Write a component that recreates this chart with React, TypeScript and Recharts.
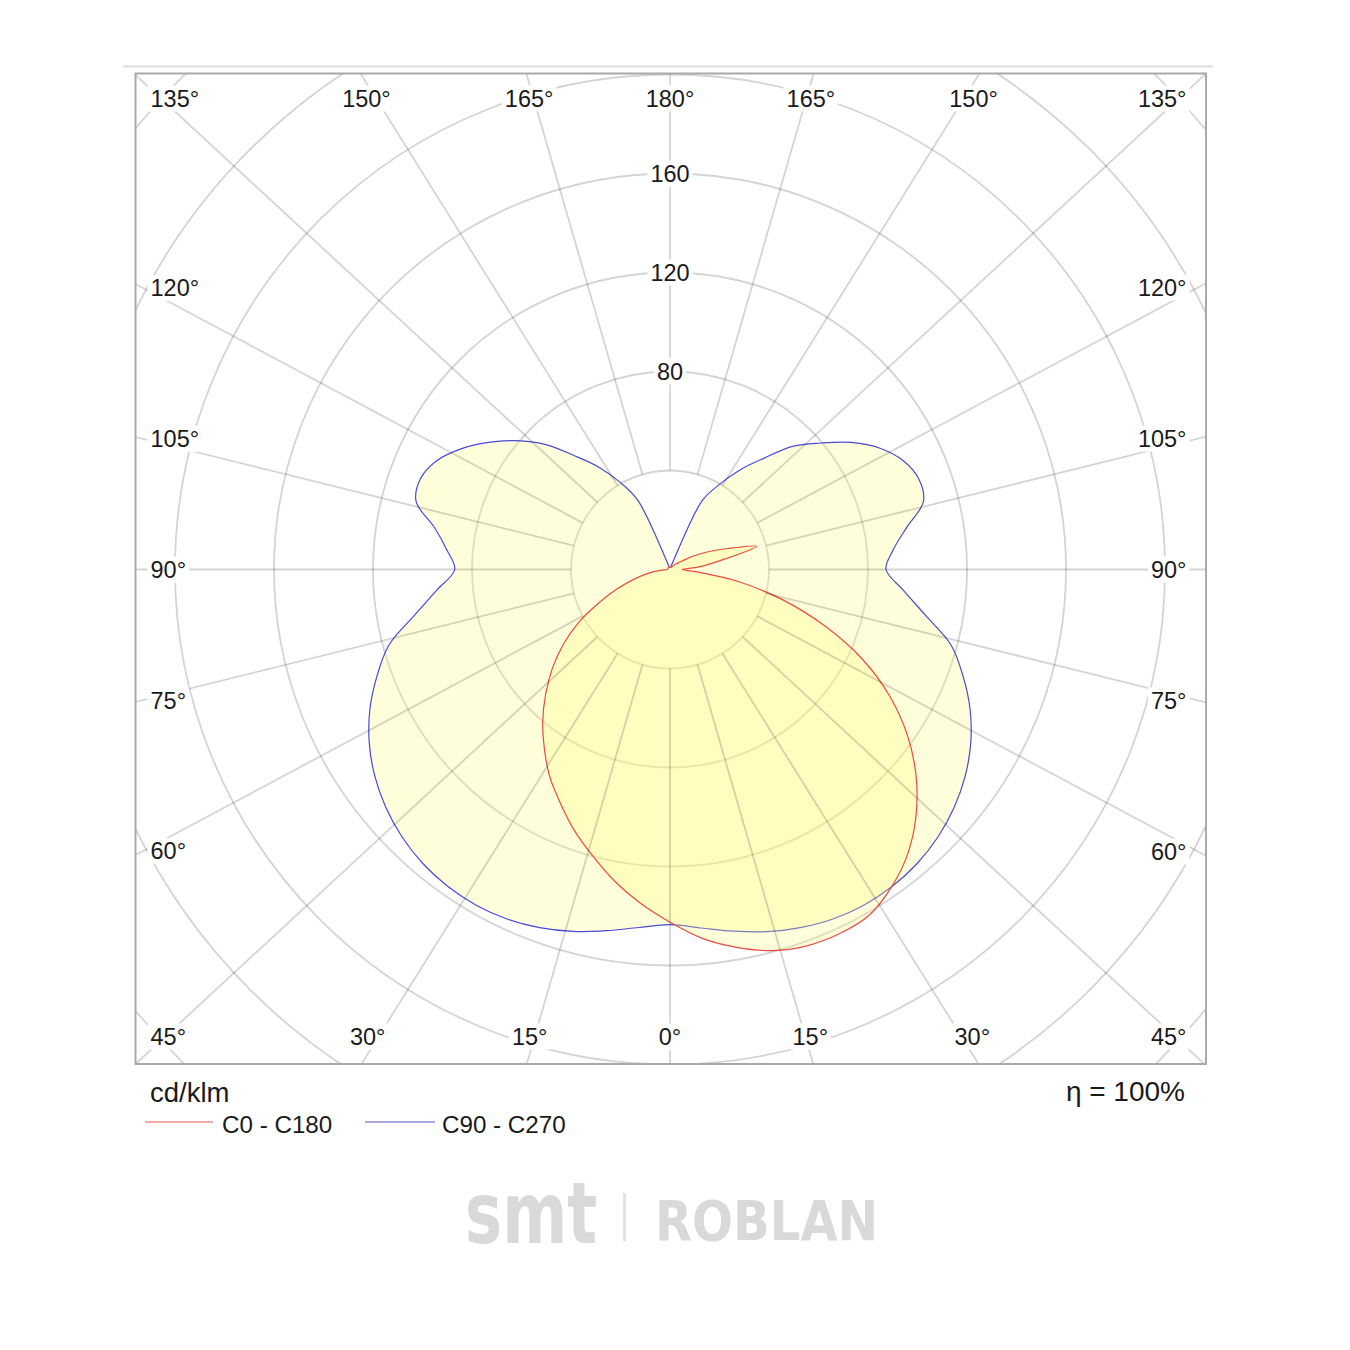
import React from 'react';
import { RadarChart, Radar, PolarGrid, PolarAngleAxis, PolarRadiusAxis } from 'recharts';

// Gamma angles (degrees from nadir) sampled every 5°
const gammaAngles = [
  0, 5, 10, 15, 20, 25, 30, 35, 40, 45, 50, 55, 60, 65, 70, 75, 80, 85, 90,
  95, 100, 105, 110, 115, 120, 125, 130, 135, 140, 145, 150, 155, 160, 165, 170, 175, 180,
];

// C0 - C180 plane (red), cd/klm. Left half = C180, right half = C0
const c180Values = [
  142.5, 135.5, 128, 120, 112.5, 104.5, 97, 88.5, 80, 71, 62, 52.5, 42.5, 31.5, 22.5, 15, 9, 4, 1,
  1, 1, 1, 1, 1, 1, 1, 1, 1, 1, 1, 1, 1, 1, 1, 1, 1, 1,
];
const c0Values = [
  143.4, 149.6, 155, 159.4, 161.8, 162.3, 161.2, 156.3, 149.6, 140.6, 129.8, 117.2, 102.6, 85.8, 66.5, 47, 28, 11, 5,
  11.9, 20.6, 36.3, 24.8, 17, 10.9, 6, 4, 3, 2, 1.5, 1, 1, 1, 1, 1, 1, 1,
];

// C90 - C270 plane (blue), cd/klm. Left half = C270, right half = C90
const c270Values = [
  143.5, 145.2, 148.2, 151.4, 154, 155.8, 156.6, 156.4, 155.2, 153, 149.8, 145.6, 140.3, 133.8, 126, 117.5, 104.5, 94.5, 87,
  90.5, 96.5, 106.2, 107.3, 104, 97.5, 89.5, 81, 71.5, 60, 50.7, 41, 31, 2, 1, 1, 1, 1,
];
const c90Values = [
  143.5, 145.4, 148.4, 151.5, 154, 155.8, 156.6, 156.4, 155.2, 153, 149.8, 145.6, 140.3, 133.8, 126, 117.5, 104.5, 94.5, 87.3,
  90.5, 97, 106, 107, 104, 98, 89.5, 79.5, 70.5, 58.5, 49, 39.5, 30.5, 2, 1, 1, 1, 1,
];

const seriesNames = ['C0 - C180', 'C90 - C270'];
const radiusTicks = [0, 40, 80, 120, 160, 200, 240, 280, 320];
const radiusLabels = [80, 120, 160];
const angleLabelStep = 15;
const unitText = 'cd/klm';
const efficiencyText = 'η = 100%';

// layout
const W = 1071;
const H = 991;
const CX = 535;
const CY = 496.5;
const RMAX = 320;
const OUTER_R = 792;
const INNER_RING = 40;
const ASPECT = W / H;
const FONT = '"Liberation Sans", Arial, Helvetica, sans-serif';
const LABEL_SIZE = 23.5;
const LEFT_X = 15.5;
const RIGHT_X = 1051.5;
const TOP_Y = 25.5;
const BOTTOM_Y = 963.5;

// rows around the full circle, clockwise from nadir: left half (0..180), then right half (180..0)
const rows: { angle: number; red: number; blue: number }[] = [];
gammaAngles.forEach((g, i) => {
  rows.push({ angle: g, red: c180Values[i], blue: c270Values[i] });
});
for (let i = gammaAngles.length - 2; i >= 1; i--) {
  rows.push({ angle: 360 - gammaAngles[i], red: c0Values[i], blue: c90Values[i] });
}

// closed centripetal Catmull-Rom path through the points computed by Recharts
const smoothClosedPath = (pts: { x: number; y: number }[]) => {
  const n = pts.length;
  const EPS = 1e-9;
  const f = (v: number) => v.toFixed(2);
  let d = `M${f(pts[0].x)},${f(pts[0].y)}`;
  for (let i = 0; i < n; i++) {
    const p0 = pts[(i - 1 + n) % n];
    const p1 = pts[i];
    const p2 = pts[(i + 1) % n];
    const p3 = pts[(i + 2) % n];
    const l01 = Math.hypot(p1.x - p0.x, p1.y - p0.y);
    const l12 = Math.hypot(p2.x - p1.x, p2.y - p1.y);
    const l23 = Math.hypot(p3.x - p2.x, p3.y - p2.y);
    const l01a = Math.sqrt(l01);
    const l12a = Math.sqrt(l12);
    const l23a = Math.sqrt(l23);
    const l01_2a = l01;
    const l12_2a = l12;
    const l23_2a = l23;
    let c1x = p1.x;
    let c1y = p1.y;
    let c2x = p2.x;
    let c2y = p2.y;
    if (l01a > EPS && l12a > EPS) {
      const a = 2 * l01_2a + 3 * l01a * l12a + l12_2a;
      const m = 3 * l01a * (l01a + l12a);
      c1x = (p1.x * a - p0.x * l12_2a + p2.x * l01_2a) / m;
      c1y = (p1.y * a - p0.y * l12_2a + p2.y * l01_2a) / m;
    }
    if (l23a > EPS && l12a > EPS) {
      const b = 2 * l23_2a + 3 * l23a * l12a + l12_2a;
      const m = 3 * l23a * (l23a + l12a);
      c2x = (p2.x * b + p1.x * l23_2a - p3.x * l12_2a) / m;
      c2y = (p2.y * b + p1.y * l23_2a - p3.y * l12_2a) / m;
    }
    d += `C${f(c1x)},${f(c1y)},${f(c2x)},${f(c2y)},${f(p2.x)},${f(p2.y)}`;
  }
  return d + 'Z';
};

const makeShape = (stroke: string, fill: string, fillOpacity: number, strokeWidth: number) => (props: any) => {
  const pts = (props?.points || []).filter((p: any) => Number.isFinite(p?.x) && Number.isFinite(p?.y));
  if (pts.length < 3) return <g />;
  return (
    <path
      d={smoothClosedPath(pts)}
      stroke={stroke}
      strokeWidth={strokeWidth}
      fill={fill}
      fillOpacity={fillOpacity}
      strokeLinejoin="round"
    />
  );
};

const blueShape = makeShape('#4a4ad6', '#fffa78', 0.27, 1.2);
const redShape = makeShape('#ea4a44', '#fffa78', 0.27, 1.2);

const labelWidth = (s: string) => {
  let w = 0;
  for (const ch of s) w += ch === '°' ? 0.4 * LABEL_SIZE : 0.556 * LABEL_SIZE;
  return w;
};

const AngleTick = (props: any) => {
  const { x, y, payload } = props;
  const p = Number(payload?.value);
  if (!Number.isFinite(p) || p % angleLabelStep !== 0) return <g />;
  const gamma = p <= 180 ? p : 360 - p;
  let dx = (x - CX) * ASPECT;
  let dy = y - CY;
  const len = Math.hypot(dx, dy) || 1;
  dx /= len;
  dy /= len;
  const r0 = (OUTER_R * INNER_RING) / RMAX;
  const x0 = CX + dx * r0;
  const y0 = CY + dy * r0;
  const x1 = CX + dx * 2000;
  const y1 = CY + dy * 2000;

  const INSET_X = 8;
  const INSET_Y = 10;
  const tx = dx > 1e-6 ? (W - INSET_X - CX) / dx : dx < -1e-6 ? (INSET_X - CX) / dx : Infinity;
  const ty = dy > 1e-6 ? (H - INSET_Y - CY) / dy : dy < -1e-6 ? (INSET_Y - CY) / dy : Infinity;
  let lx: number;
  let ly: number;
  let anchor: 'start' | 'middle' | 'end';
  if (ty <= tx) {
    const hx = CX + dx * ty;
    ly = dy < 0 ? TOP_Y : BOTTOM_Y;
    if (hx < 60) {
      lx = LEFT_X;
      anchor = 'start';
    } else if (hx > W - 60) {
      lx = RIGHT_X;
      anchor = 'end';
    } else {
      lx = hx;
      anchor = 'middle';
    }
  } else {
    const hy = CY + dy * tx;
    ly = Math.min(Math.max(hy, TOP_Y), BOTTOM_Y);
    if (dx < 0) {
      lx = LEFT_X;
      anchor = 'start';
    } else {
      lx = RIGHT_X;
      anchor = 'end';
    }
  }
  const label = `${gamma}°`;
  const tw = labelWidth(label);
  const rx = anchor === 'start' ? lx - 3 : anchor === 'end' ? lx - tw - 3 : lx - tw / 2 - 3;
  return (
    <g>
      <line x1={x0} y1={y0} x2={x1} y2={y1} stroke="rgba(0,0,0,0.17)" strokeWidth={1.8} />
      <rect x={rx} y={ly - 13} width={tw + 6} height={26} fill="#ffffff" />
      <text
        x={lx}
        y={ly + 0.36 * LABEL_SIZE}
        textAnchor={anchor}
        fontFamily={FONT}
        fontSize={LABEL_SIZE}
        fill="#1a1a1a"
      >
        {label}
      </text>
    </g>
  );
};

const RadiusTick = (props: any) => {
  const { x, y, payload } = props;
  const v = Number(payload?.value);
  if (!radiusLabels.includes(v)) return <g />;
  const s = String(v);
  const tw = labelWidth(s);
  return (
    <g>
      <rect x={x - tw / 2 - 3} y={y - 13} width={tw + 6} height={26} fill="#ffffff" />
      <text
        x={x}
        y={y + 0.36 * LABEL_SIZE}
        textAnchor="middle"
        fontFamily={FONT}
        fontSize={LABEL_SIZE}
        fill="#1a1a1a"
      >
        {s}
      </text>
    </g>
  );
};

const App = () => {
  return (
    <div style={{ position: 'absolute', left: 0, top: 0, width: 1350, height: 1350, background: '#ffffff' }}>
      <div style={{ position: 'absolute', left: 135, top: 73, width: W, height: H, overflow: 'hidden' }}>
        <RadarChart
          width={W}
          height={H}
          data={rows}
          cx={CX}
          cy={CY}
          outerRadius={OUTER_R}
          innerRadius={0}
          startAngle={-90}
          endAngle={-450}
          margin={{ top: 0, right: 0, bottom: 0, left: 0 }}
        >
          <PolarGrid gridType="circle" radialLines={false} stroke="#d4d4d4" strokeWidth={1.8} />
          <Radar
            name={seriesNames[1]}
            dataKey="blue"
            stroke="#4a4ad6"
            strokeWidth={1.2}
            fill="#fffa78"
            fillOpacity={0.27}
            dot={false}
            shape={blueShape}
            isAnimationActive={false}
          />
          <Radar
            name={seriesNames[0]}
            dataKey="red"
            stroke="#ea4a44"
            strokeWidth={1.2}
            fill="#fffa78"
            fillOpacity={0.27}
            dot={false}
            shape={redShape}
            isAnimationActive={false}
          />
          <PolarAngleAxis dataKey="angle" tick={AngleTick} tickLine={false} axisLine={false} />
          <PolarRadiusAxis
            angle={90}
            domain={[0, RMAX]}
            ticks={radiusTicks as any}
            tickCount={radiusTicks.length}
            tick={RadiusTick}
            axisLine={false}
            tickLine={false}
          />
        </RadarChart>
      </div>
      <svg
        width={1350}
        height={1350}
        style={{ position: 'absolute', left: 0, top: 0, pointerEvents: 'none' }}
      >
        <line x1={123} y1={66.5} x2={1213} y2={66.5} stroke="#dedede" strokeWidth={2} />
        <rect x={135.5} y={73.5} width={1070.5} height={990.5} fill="none" stroke="#a9a9a9" strokeWidth={2} />
        <text x={150} y={1101.5} fontFamily={FONT} fontSize={27.5} fill="#1a1a1a">
          {unitText}
        </text>
        <text x={1185} y={1101} fontFamily={FONT} fontSize={28} fill="#1a1a1a" textAnchor="end">
          {efficiencyText}
        </text>
        <line x1={145} y1={1122} x2={213} y2={1122} stroke="#f08a8a" strokeWidth={1.5} />
        <text x={222} y={1133} fontFamily={FONT} fontSize={24.2} fill="#1a1a1a">
          {seriesNames[0]}
        </text>
        <line x1={365} y1={1122} x2={435} y2={1122} stroke="#8c8cdc" strokeWidth={1.5} />
        <text x={442} y={1133} fontFamily={FONT} fontSize={24.2} fill="#1a1a1a">
          {seriesNames[1]}
        </text>
        <text
          x={465}
          y={1243}
          fontFamily='"DejaVu Sans", sans-serif'
          fontWeight="bold"
          fontSize={85}
          fill="#d9d9d9"
          textLength={132}
          lengthAdjust="spacingAndGlyphs"
        >
          smt
        </text>
        <rect x={623} y={1193} width={3} height={48} fill="#e2e2e2" />
        <text
          x={655}
          y={1240}
          fontFamily='"DejaVu Sans", sans-serif'
          fontWeight="bold"
          fontSize={55}
          fill="#d9d9d9"
          textLength={223}
          lengthAdjust="spacingAndGlyphs"
        >
          ROBLAN
        </text>
      </svg>
    </div>
  );
};

export default App;
